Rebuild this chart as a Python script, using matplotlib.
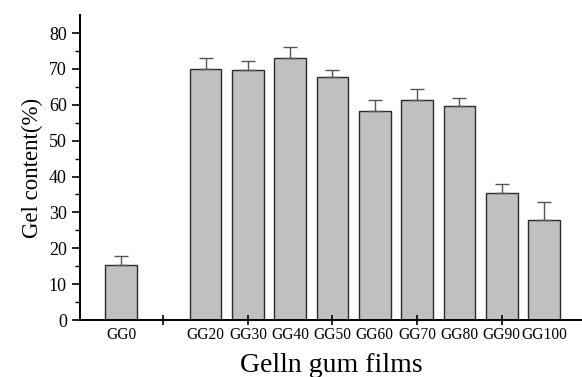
import numpy as np
import matplotlib.pyplot as plt

plt.rcParams["font.family"] = ["Liberation Serif", "DejaVu Serif"]

# data
labels = ["GG0", "GG20", "GG30", "GG40", "GG50", "GG60", "GG70", "GG80", "GG90", "GG100"]
positions = [0, 2, 3, 4, 5, 6, 7, 8, 9, 10]
gel_content = [15.3, 70.1, 69.6, 73.1, 67.7, 58.3, 61.2, 59.6, 35.4, 27.8]
gel_err = [2.5, 3.0, 2.7, 2.9, 2.0, 3.0, 3.3, 2.4, 2.5, 5.1]

fig = plt.figure(figsize=(5.82, 3.77), dpi=100)
ax = fig.add_axes([0.1375, 0.151, 0.8625, 0.809])
ax.set_axisbelow(False)

ax.bar(positions, gel_content, width=0.75, color="#c0c0c0", edgecolor="#2b2b2b",
       linewidth=1.0, zorder=2)
ax.errorbar(positions, gel_content, yerr=[np.zeros(len(gel_err)), gel_err],
            fmt="none", ecolor="#555555", elinewidth=1.0, capsize=5, capthick=1.0, zorder=3)

ax.set_xlim(-0.97, 10.9)
ax.set_ylim(0, 85)

# category names on unmarked major ticks, odd tick marks crossing the axis
ax.xaxis.set_remove_overlapping_locs(False)
ax.set_xticks(positions)
ax.set_xticklabels(labels, fontsize=11.2)
ax.tick_params(axis="x", which="major", length=0, pad=5)
ax.set_xticks([1, 3, 5, 7, 9], minor=True)
ax.tick_params(axis="x", which="minor", direction="inout", length=7, width=1.2)

ax.set_yticks(np.arange(0, 81, 10))
ax.set_yticks(np.arange(5, 85, 10), minor=True)
ax.tick_params(axis="y", which="major", direction="out", length=6, width=1.2, labelsize=13)
ax.tick_params(axis="y", which="minor", direction="out", length=3.5, width=1.0)

for side in ["top", "right"]:
    ax.spines[side].set_visible(False)
for side in ["left", "bottom"]:
    ax.spines[side].set_linewidth(1.4)

ax.set_xlabel("Gelln gum films", fontsize=20, labelpad=7)
ax.set_ylabel("Gel content(%)", fontsize=16.5, labelpad=4)

fig.savefig("out.png", dpi=100)
